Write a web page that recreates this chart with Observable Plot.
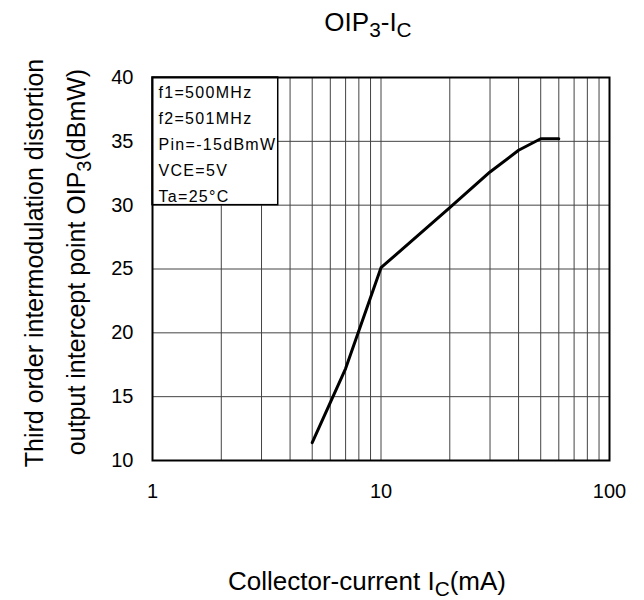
<!DOCTYPE html>
<html><head><meta charset="utf-8">
<script src="https://cdn.jsdelivr.net/npm/d3@7"></script>
<script src="https://cdn.jsdelivr.net/npm/@observablehq/plot@0.6"></script>
<style>body{margin:0;background:#fff}</style>
</head><body><div id="chart"></div>
<script>
// Collector current (mA) and OIP3 (dBmW)
const current = [5, 7, 10, 20, 30, 40, 50, 60];
const oip3 = [11.4, 17.2, 25.1, 29.8, 32.6, 34.3, 35.2, 35.2];
const xTicks = [1, 10, 100];
const xGrid = [1, 2, 3, 4, 5, 6, 7, 8, 9, 10, 20, 30, 40, 50, 60, 70, 80, 90, 100];
const yTicks = [10, 15, 20, 25, 30, 35, 40];
const conditions = ["f1=500MHz", "f2=501MHz", "Pin=-15dBmW", "VCE=5V", "Ta=25°C"];
const condBox = [{x1: 1, x2: 3.55, y1: 30, y2: 40}];

const rows = current.map((c, i) => ({c, v: oip3[i]}));
const font = "'Liberation Sans', Arial, Helvetica, sans-serif";

const svg = Plot.plot({
  width: 644, height: 600,
  marginLeft: 152, marginRight: 35, marginTop: 77, marginBottom: 140,
  style: {fontFamily: font, fontSize: "20px", color: "#000", background: "#fff", overflow: "visible"},
  x: {type: "log", domain: [1, 100]},
  y: {domain: [10, 40]},
  marks: [
    Plot.ruleX(xGrid, {stroke: "#444", strokeWidth: 1}),
    Plot.ruleY(yTicks, {stroke: "#444", strokeWidth: 1}),
    Plot.rect(condBox, {x1: "x1", x2: "x2", y1: "y1", y2: "y2", fill: "white", stroke: "black", strokeWidth: 1.5}),
    Plot.text([conditions.join("\n")], {text: d => d, frameAnchor: "top-left", textAnchor: "start", dx: 6, dy: 2, lineHeight: 1.63, fontSize: 16, fill: "#000"}),
    Plot.line(rows, {x: "c", y: "v", stroke: "black", strokeWidth: 3, strokeLinejoin: "round"}),
    Plot.frame({stroke: "black", strokeWidth: 2}),
    Plot.axisX({ticks: xTicks, tickSize: 0, tickPadding: 23, label: null, tickFormat: d => String(d), fontSize: 20}),
    Plot.axisY({ticks: yTicks, tickSize: 0, tickPadding: 19, label: null, fontSize: 20})
  ]
});

const s = d3.select(svg);
s.selectAll('g[aria-label="text"] text').attr("letter-spacing", "1.3px");

// Title
const t = s.append("text").attr("x", 368).attr("y", 31).attr("text-anchor", "middle")
  .attr("font-size", 26).attr("font-family", font).attr("fill", "#000");
t.append("tspan").text("OIP");
t.append("tspan").attr("font-size", "0.8em").attr("dy", "0.3em").text("3");
t.append("tspan").attr("dy", "-0.24em").text("-I");
t.append("tspan").attr("font-size", "0.8em").attr("dy", "0.3em").text("C");

// X label
const xl = s.append("text").attr("x", 367).attr("y", 590).attr("text-anchor", "middle")
  .attr("font-size", 26).attr("font-family", font).attr("fill", "#000");
xl.append("tspan").text("Collector-current I");
xl.append("tspan").attr("font-size", "0.8em").attr("dy", "0.3em").text("C");
xl.append("tspan").attr("dy", "-0.24em").text("(mA)");

// Y labels
s.append("text").attr("transform", "translate(43,263) rotate(-90)").attr("text-anchor", "middle")
  .attr("font-size", 25).attr("font-family", font).attr("fill", "#000")
  .text("Third order intermodulation distortion");
const yl = s.append("text").attr("transform", "translate(85,262) rotate(-90)").attr("text-anchor", "middle")
  .attr("font-size", 25).attr("font-family", font).attr("fill", "#000");
yl.append("tspan").text("output intercept point OIP");
yl.append("tspan").attr("font-size", "0.8em").attr("dy", "0.3em").text("3");
yl.append("tspan").attr("dy", "-0.24em").text("(dBmW)");

document.getElementById("chart").appendChild(svg);
</script>
</body></html>
